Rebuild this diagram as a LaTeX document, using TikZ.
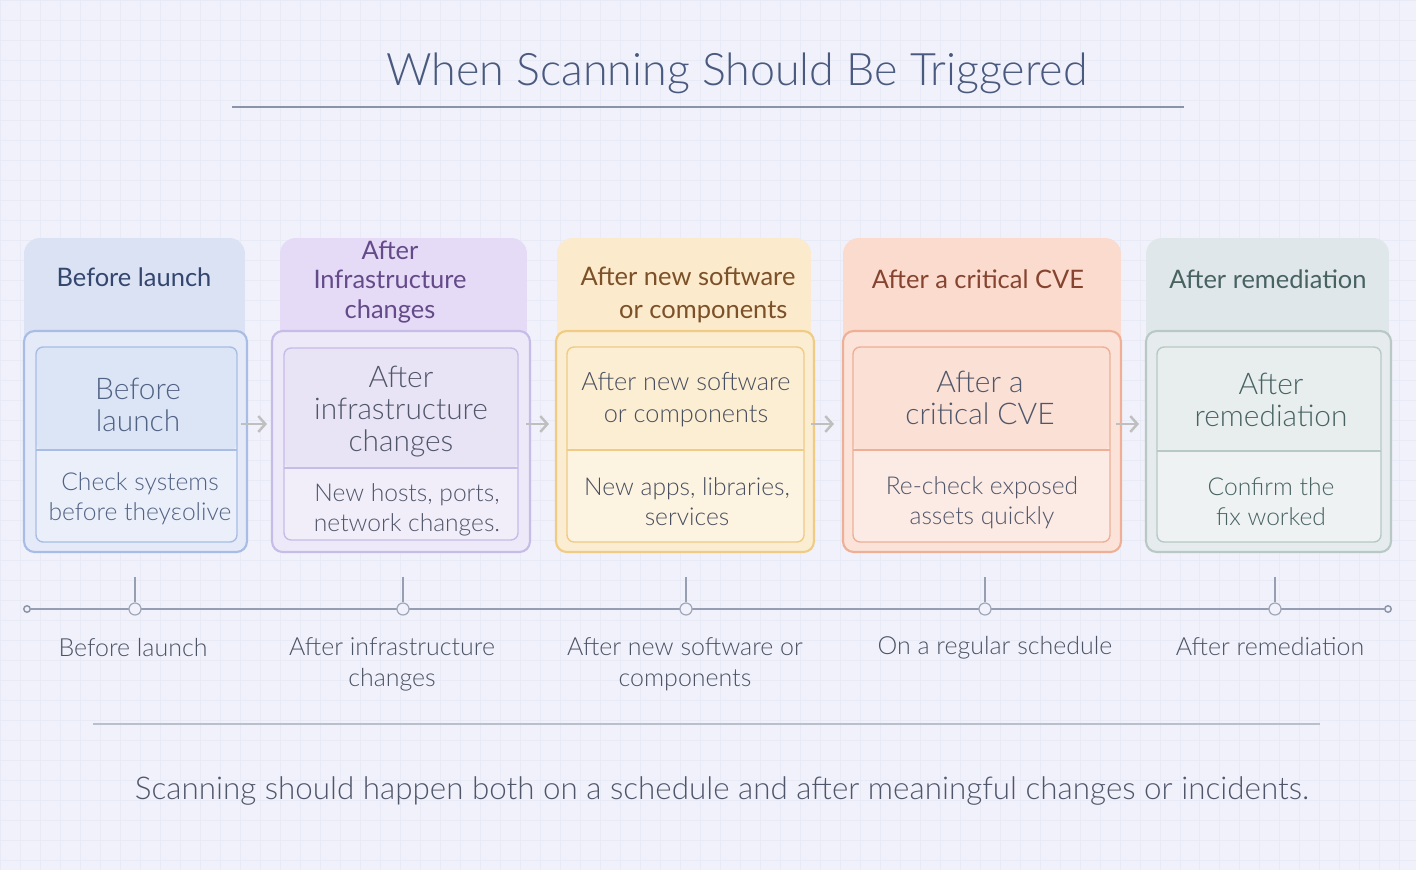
\documentclass[tikz,border=0pt]{standalone}
\usepackage{fontspec}
\setmainfont{Lato Light}
\newfontfamily\headfont{Lato}
\usepackage{xcolor}
\usetikzlibrary{arrows.meta}

\definecolor{bgc}{HTML}{F0F1FA}
\definecolor{gridc}{HTML}{E8EAF6}
\definecolor{titlec}{HTML}{4A5A7E}
\definecolor{rulec}{HTML}{8A94A8}
\definecolor{lblc}{HTML}{4C5364}
% card colours
\definecolor{blue_tab}{HTML}{DAE2F4}
\definecolor{blue_brd}{HTML}{A8BCE5}
\definecolor{blue_body}{HTML}{E4EAF8}
\definecolor{blue_top}{HTML}{DCE5F6}
\definecolor{blue_low}{HTML}{EAEFFA}
\definecolor{blue_txt}{HTML}{34466E}
\definecolor{purp_tab}{HTML}{E5DBF6}
\definecolor{purp_brd}{HTML}{C6BCE8}
\definecolor{purp_body}{HTML}{EEE9F8}
\definecolor{purp_top}{HTML}{E9E4F5}
\definecolor{purp_low}{HTML}{F1EEFA}
\definecolor{purp_txt}{HTML}{654A8A}
\definecolor{yell_tab}{HTML}{FBEACB}
\definecolor{yell_brd}{HTML}{EFCB84}
\definecolor{yell_body}{HTML}{FBEDD2}
\definecolor{yell_top}{HTML}{FCEED2}
\definecolor{yell_low}{HTML}{FDF3E1}
\definecolor{yell_txt}{HTML}{7C5028}
\definecolor{salm_tab}{HTML}{FBDBCE}
\definecolor{salm_brd}{HTML}{EDB096}
\definecolor{salm_body}{HTML}{FBE3D9}
\definecolor{salm_top}{HTML}{FBE0D5}
\definecolor{salm_low}{HTML}{FCEBE4}
\definecolor{salm_txt}{HTML}{864430}
\definecolor{sage_tab}{HTML}{DFE7EA}
\definecolor{sage_brd}{HTML}{B8C8C4}
\definecolor{sage_body}{HTML}{E6ECEE}
\definecolor{sage_top}{HTML}{E8EEEE}
\definecolor{sage_low}{HTML}{EEF2F3}
\definecolor{sage_txt}{HTML}{486262}
\definecolor{greytxt}{HTML}{50566A}

\begin{document}
\begin{tikzpicture}[x=0.02cm, y=-0.02cm,
    tab/.style={fill=#1, rounded corners=9pt, minimum height=2.44cm, inner sep=0pt},
    card/.style 2 args={draw=#1, fill=#2, line width=1.2pt, rounded corners=6pt, minimum height=4.42cm, inner sep=0pt},
    inbox/.style n args={4}{draw=#1, fill=#3, line width=0.8pt, rounded corners=4pt, minimum height=3.9cm, inner sep=0pt,
        path picture={
            \fill[#2] (path picture bounding box.north west) rectangle ([yshift=-#4]path picture bounding box.north east);
            \draw[#1, line width=0.8pt] ([yshift=-#4]path picture bounding box.north west) -- ([yshift=-#4]path picture bounding box.north east);
        }},
    htxt/.style={font=\headfont\fontsize{14.5}{17}\selectfont, align=center, text=#1},
    ttxt/.style={font=\fontsize{17}{18.2}\selectfont, align=center, text=#1},
    btxt/.style={font=\fontsize{14}{17}\selectfont, align=center, text=#1},
    lbl/.style={font=\fontsize{14.2}{17.6}\selectfont, align=center, text=lblc},
    link/.style={draw=black!25, line width=1.4pt, -{Straight Barb[length=4pt, width=9pt]}},
    tline/.style={draw=rulec!90, line width=0.8pt},
    tick/.style={circle, draw=rulec!80, fill=bgc, line width=0.7pt, minimum size=0.24cm, inner sep=0pt},
    tend/.style={circle, draw=rulec, fill=bgc, line width=0.8pt, minimum size=0.13cm, inner sep=0pt}
]
\useasboundingbox (0,0) rectangle (1416,870);
\fill[bgc] (0,0) rectangle (1416,870);
\draw[gridc, line width=0.3pt] (0,0) grid[step=0.4cm] (1416,870);

% title
\node[font=\fontsize{25.5}{30}\selectfont, text=titlec] (title) at (737,73) {When Scanning Should Be Triggered};
\coordinate (rule_l) at (232,107);
\coordinate (rule_r) at (1184,107);
\draw[rulec, line width=0.8pt] (rule_l) -- (rule_r);

% header tabs
\node[tab=blue_tab, minimum width=4.42cm] (h1) at (134.5,299) {};
\node[tab=purp_tab, minimum width=4.94cm] (h2) at (403.5,299) {};
\node[tab=yell_tab, minimum width=5.08cm] (h3) at (684,299) {};
\node[tab=salm_tab, minimum width=5.56cm] (h4) at (982,299) {};
\node[tab=sage_tab, minimum width=4.86cm] (h5) at (1267.5,299) {};

% card bodies
\node[card={blue_brd}{blue_body}, minimum width=4.46cm] (b1) at (135.5,441.5) {};
\node[card={purp_brd}{purp_body}, minimum width=5.16cm] (b2) at (401,441.5) {};
\node[card={yell_brd}{yell_body}, minimum width=5.16cm] (b3) at (685,441.5) {};
\node[card={salm_brd}{salm_body}, minimum width=5.56cm] (b4) at (982,441.5) {};
\node[card={sage_brd}{sage_body}, minimum width=4.90cm] (b5) at (1268.5,441.5) {};

% inner boxes
\node[inbox={blue_brd}{blue_top}{blue_low}{2.06cm}, minimum width=4.02cm] (i1) at (136.5,444.5) {};
\node[inbox={purp_brd}{purp_top}{purp_low}{2.40cm}, minimum width=4.68cm, minimum height=3.84cm] (i2) at (401,444) {};
\node[inbox={yell_brd}{yell_top}{yell_low}{2.06cm}, minimum width=4.74cm] (i3) at (685.5,444.5) {};
\node[inbox={salm_brd}{salm_top}{salm_low}{2.06cm}, minimum width=5.14cm] (i4) at (981.5,444.5) {};
\node[inbox={sage_brd}{sage_top}{sage_low}{2.08cm}, minimum width=4.48cm] (i5) at (1269,444.5) {};

% header texts
\node[htxt=blue_txt] (h1_t) at (134,277) {Before launch};
\node[htxt=purp_txt] (h2_t) at (390,282) {After\\Infrastructure\\changes};
\node[htxt=yell_txt, font=\headfont\fontsize{14.5}{18.8}\selectfont] (h3_t) at (688,295) {After new software\\\hspace*{1.2em}or components};
\node[htxt=salm_txt] (h4_t) at (978,279) {After a critical CVE};
\node[htxt=sage_txt] (h5_t) at (1268,279) {After remediation};

% inner titles
\node[ttxt=blue_txt!85] (i1_t) at (138,405) {Before\\launch};
\node[ttxt=greytxt] (i2_t) at (401,412) {After\\infrastructure\\changes};
\node[btxt=greytxt!90!black, font=\fontsize{14.4}{18.2}\selectfont] (i3_t) at (686,400) {After new software\\or components};
\node[ttxt=greytxt] (i4_t) at (980,398) {After a\\critical CVE};
\node[ttxt=sage_txt] (i5_t) at (1271,400) {After\\remediation};

% inner details
\node[btxt=blue_txt!85] (i1_d) at (140,499) {Check systems\\before theyεolive};
\node[btxt=greytxt] (i2_d) at (407,510) {New hosts, ports,\\network changes.};
\node[btxt=greytxt!90!black] (i3_d) at (687,502) {New apps, libraries,\\services};
\node[btxt=greytxt] (i4_d) at (982,503) {Re-check exposed\\assets quickly};
\node[btxt=sage_txt] (i5_d) at (1271,502) {Confirm the\\fix worked};

% arrows between cards
\draw[link] ([xshift=-0.14cm, yshift=0.35cm]b1.east) -- ([xshift=-0.08cm, yshift=0.35cm]b2.west);
\draw[link] ([xshift=-0.10cm, yshift=0.35cm]b2.east) -- ([xshift=-0.12cm, yshift=0.35cm]b3.west);
\draw[link] ([xshift=-0.08cm, yshift=0.35cm]b3.east) -- ([xshift=-0.16cm, yshift=0.35cm]b4.west);
\draw[link] ([xshift=-0.12cm, yshift=0.35cm]b4.east) -- ([xshift=-0.12cm, yshift=0.35cm]b5.west);

% timeline
\node[tend] (tl_a) at (27,609) {};
\node[tend] (tl_b) at (1388,609) {};
\draw[tline] (tl_a) -- (tl_b);
\node[tick] (t1) at (135,609) {};
\node[tick] (t2) at (403,609) {};
\node[tick] (t3) at (686,609) {};
\node[tick] (t4) at (985,609) {};
\node[tick] (t5) at (1275,609) {};
\coordinate (t1_up) at (135,577);
\coordinate (t2_up) at (403,577);
\coordinate (t3_up) at (686,577);
\coordinate (t4_up) at (985,577);
\coordinate (t5_up) at (1275,577);
\draw[tline, line width=0.6pt]
(t1_up) -- (t1)
(t2_up) -- (t2)
(t3_up) -- (t3)
(t4_up) -- (t4)
(t5_up) -- (t5);

\node[lbl] (l1) at (133,648) {Before launch};
\node[lbl] (l2) at (392,664) {After infrastructure\\changes};
\node[lbl] (l3) at (685,664) {After new software or\\components};
\node[lbl] (l4) at (995,648) {On a regular schedule};
\node[lbl] (l5) at (1270,647) {After remediation};

% footer
\coordinate (foot_l) at (93,724);
\coordinate (foot_r) at (1320,724);
\draw[rulec!60, line width=0.6pt] (foot_l) -- (foot_r);
\node[font=\fontsize{17.85}{21}\selectfont, text=greytxt] (foot) at (722,791) {Scanning should happen both on a schedule and after meaningful changes or incidents.};
\end{tikzpicture}
\end{document}
